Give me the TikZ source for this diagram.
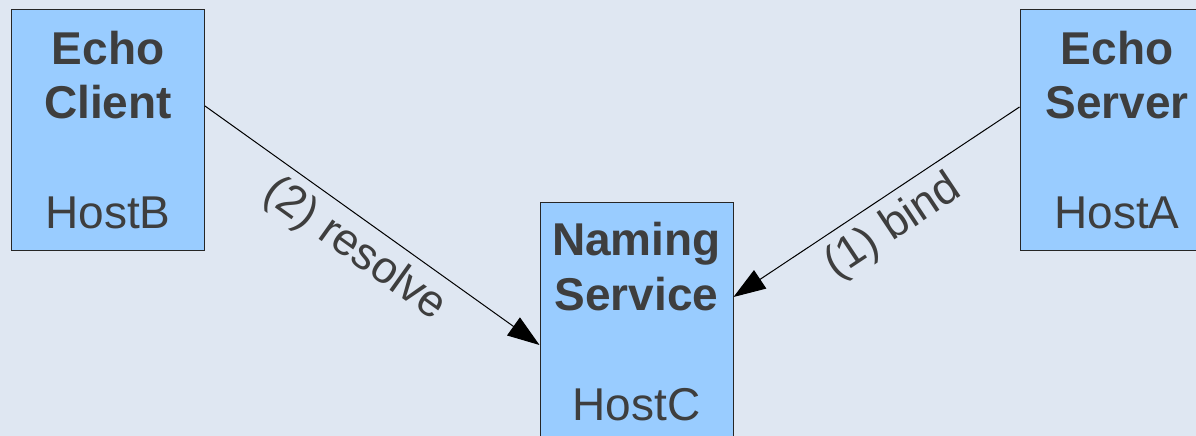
\documentclass[tikz,border=0pt]{standalone}
\usepackage{fontspec}
\setmainfont{Liberation Sans}
\usetikzlibrary{arrows.meta}
\definecolor{bg}{RGB}{223,231,242}
\definecolor{boxfill}{RGB}{153,204,255}
\definecolor{txt}{RGB}{62,62,62}
\tikzset{
  box/.style={draw=black!85, line width=1pt, fill=boxfill, minimum width=193pt, minimum height=240pt, inner sep=0pt},
  title/.style={font=\fontsize{46}{50}\selectfont\bfseries, text=txt, anchor=base, inner sep=0pt},
  host/.style={font=\fontsize{46}{50}\selectfont, text=txt, anchor=base, inner sep=0pt},
  conn/.style={draw=black, line width=1pt, -{Triangle[length=32pt,width=22pt]}},
  lbl/.style={font=\fontsize{45}{50}\selectfont, text=txt, sloped, below, inner sep=9pt}
}
\begin{document}
\begin{tikzpicture}[x=1pt,y=-1pt]
\useasboundingbox (0,0) rectangle (1196,436);
\fill[bg] (0,0) rectangle (1196,436);
\begin{scope}
\clip (0,0) rectangle (1196,436);
\node[box] (client) at (108,130) {};
\node[box] (server) at (1116.5,130) {};
\node[box] (naming) at (636.5,322) {};
\end{scope}
\node[title] (t1) at (108,65) {Echo};
\node[title] (t2) at (108,118) {Client};
\node[host]  (t3) at (108,228) {HostB};
\node[title] (t4) at (1117,64) {Echo};
\node[title] (t5) at (1117,118) {Server};
\node[host]  (t6) at (1117,228) {HostA};
\node[title] (t7) at (636.5,255) {Naming};
\node[title] (t8) at (636.5,310) {Service};
\node[host]  (t9) at (636.5,420) {HostC};
\coordinate (c1) at ([yshift=24pt]client.east);
\coordinate (n1) at ([yshift=-23pt]naming.west);
\coordinate (s1) at ([yshift=23pt]server.west);
\coordinate (n2) at ([yshift=25pt]naming.east);
\draw[conn] (c1) -- node[lbl] {(2) resolve} (n1);
\draw[conn] (s1) -- node[lbl] {(1) bind} (n2);
\end{tikzpicture}
\end{document}
